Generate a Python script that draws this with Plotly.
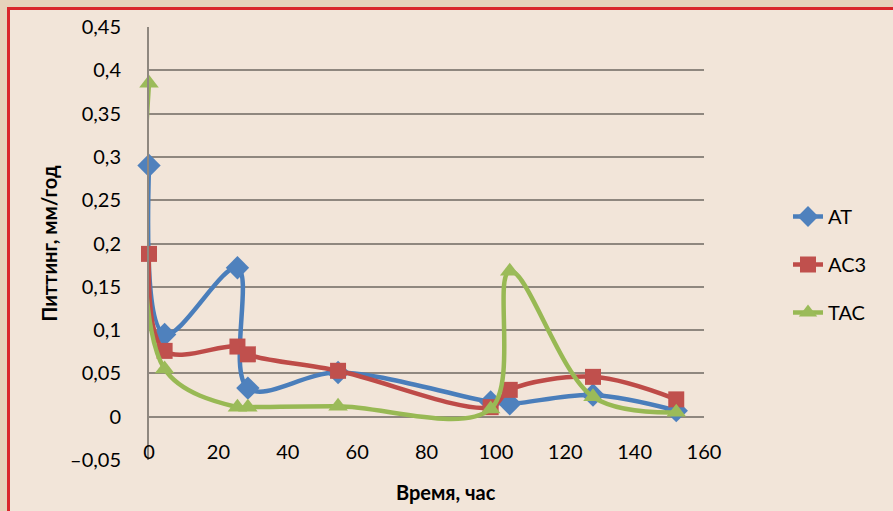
import plotly.graph_objects as go

# Measurement times, h
time_h = [0, 4.5, 25.5, 28.5, 54.5, 98.5, 104, 128, 152]

# Pitting rate, mm/year, per alloy
pit_at = [0.290, 0.095, 0.172, 0.033, 0.051, 0.017, 0.015, 0.025, 0.007]
pit_ac3 = [0.188, 0.076, 0.081, 0.072, 0.053, 0.011, 0.031, 0.046, 0.020]
pit_tac = [0.385, 0.055, 0.011, 0.011, 0.012, 0.009, 0.168, 0.023, 0.005]

series_names = ["AT", "AC3", "TAC"]

y_ticks = [0.45, 0.4, 0.35, 0.3, 0.25, 0.2, 0.15, 0.1, 0.05, 0, -0.05]
y_tick_labels = ["0,45", "0,4", "0,35", "0,3", "0,25", "0,2", "0,15", "0,1",
                 "0,05", "0", "\u20130,05"]
x_ticks = [0, 20, 40, 60, 80, 100, 120, 140, 160]
x_tick_labels = ["0", "20", "40", "60", "80", "100", "120", "140", "160"]

W, H = 893, 511
ML, MR, MT, MB = 149, 189, 27, 51
PW, PH = W - ML - MR, H - MT - MB


def px_x(p):
    return (p - ML) / PW


def px_y(p):
    return (H - MB - p) / PH


FONT = "Lato, 'Open Sans', sans-serif"
OUTER = "#e6d2bb"
INNER = "#f2e5d9"
GRID = "#8f877f"

styles = [
    dict(line="#4a7ebb", marker="#4f81bd", symbol="diamond", size=18),
    dict(line="#be4b48", marker="#c0504d", symbol="square", size=16),
    dict(line="#98b954", marker="#9bbb59", symbol="triangle-up", size=17),
]

fig = go.Figure()
for name, vals, st in zip(series_names, [pit_at, pit_ac3, pit_tac], styles):
    fig.add_trace(go.Scatter(
        x=time_h, y=vals, name=name, legendgroup=name,
        mode="lines+markers", cliponaxis=False,
        line=dict(color=st["line"], width=4.5, shape="spline", smoothing=1),
        marker=dict(symbol=st["symbol"], size=st["size"], color=st["marker"],
                    line=dict(width=0)),
    ))

fig.update_layout(
    width=W, height=H,
    margin=dict(l=ML, r=MR, t=MT, b=MB, autoexpand=False),
    paper_bgcolor=OUTER,
    plot_bgcolor="rgba(0,0,0,0)",
    font=dict(family=FONT, size=20, color="#000000"),
    showlegend=True,
    legend=dict(
        x=px_x(788), y=px_y(197), xanchor="left", yanchor="top",
        font=dict(size=20), tracegroupgap=19, bgcolor="rgba(0,0,0,0)",
    ),
    shapes=[
        dict(type="rect", xref="paper", yref="paper", layer="below",
             x0=px_x(8.5), x1=px_x(W + 20), y0=px_y(8.5), y1=px_y(H + 20),
             fillcolor=INNER, line=dict(color="#d9262b", width=3)),
    ],
    annotations=[
        dict(text="<b>Время, час</b>", xref="paper", yref="paper",
             x=px_x(446), y=px_y(492), xanchor="center", yanchor="middle",
             showarrow=False, font=dict(size=20)),
    ],
)

fig.update_xaxes(
    range=[0, 160], tickvals=x_ticks, ticktext=x_tick_labels,
    showgrid=False, zeroline=False, showline=False, ticks="",
    anchor="free", position=px_y(438),
)
fig.update_yaxes(
    range=[-0.05, 0.45], tickvals=y_ticks, ticktext=y_tick_labels,
    showgrid=True, gridcolor=GRID, gridwidth=2, zeroline=False,
    showline=True, linecolor=GRID, linewidth=2, ticks="",
    ticklabelstandoff=22,
    title=dict(text="<b>Питтинг, мм/год</b>", standoff=7, font=dict(size=20)),
)

fig.write_html("out.html")
